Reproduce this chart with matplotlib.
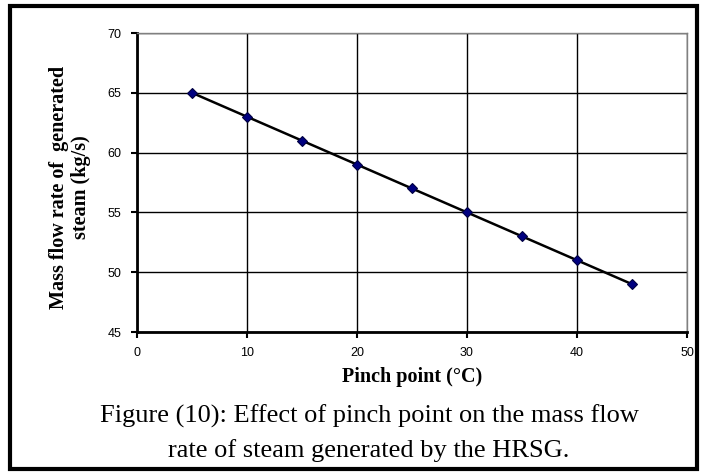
import matplotlib
matplotlib.use("Agg")
import matplotlib.pyplot as plt
from matplotlib.patches import Rectangle

pinch = [5, 10, 15, 20, 25, 30, 35, 40, 45]
mass_flow = [65, 63, 61, 59, 57, 55, 53, 51, 49]
x_ticks = [0, 10, 20, 30, 40, 50]
y_ticks = [45, 50, 55, 60, 65, 70]

W, H = 703, 473
fig = plt.figure(figsize=(W / 100, H / 100), dpi=100)
fig.patches.append(Rectangle((10 / W, 4 / H), 687 / W, 463 / H, transform=fig.transFigure,
                             fill=False, edgecolor='black', linewidth=3))

ax = fig.add_axes([137 / W, 1 - 332 / H, 550 / W, 299 / H])
ax.plot(pinch, mass_flow, color='black', linewidth=1.8, marker='D', markersize=5.5,
        markerfacecolor='#000080', markeredgecolor='#000040', markeredgewidth=0.8, zorder=3)
ax.set_xlim(0, 50)
ax.set_ylim(45, 70)
ax.set_xticks(x_ticks)
ax.set_yticks(y_ticks)
ax.grid(True, color='black', linewidth=1.0)
ax.set_axisbelow(True)
for s in ['top', 'right']:
    ax.spines[s].set_color('#808080')
    ax.spines[s].set_linewidth(1.0)
for s in ['left', 'bottom']:
    ax.spines[s].set_linewidth(2.0)
ax.tick_params(direction='out', length=4, width=1.5, labelsize=9, pad=7)
for lab in ax.get_xticklabels() + ax.get_yticklabels():
    lab.set_fontfamily('Liberation Sans')

fig.text(412 / W, 1 - 377 / H, 'Pinch point (°C)', ha='center', va='center',
         fontfamily='Liberation Serif', fontweight='bold', fontsize=14.5)
fig.text(70 / W, 1 - 187 / H, 'Mass flow rate of  generated\nsteam (kg/s)', rotation=90,
         ha='center', va='center', multialignment='center',
         fontfamily='Liberation Serif', fontweight='bold', fontsize=14.5, linespacing=1.15)

fig.text(369 / W, 1 - 416 / H, 'Figure (10): Effect of pinch point on the mass flow',
         ha='center', va='center', fontfamily='Liberation Serif', fontsize=19)
fig.text(369 / W, 1 - 451 / H, 'rate of steam generated by the HRSG.',
         ha='center', va='center', fontfamily='Liberation Serif', fontsize=19)

fig.savefig('out.png', dpi=100)
